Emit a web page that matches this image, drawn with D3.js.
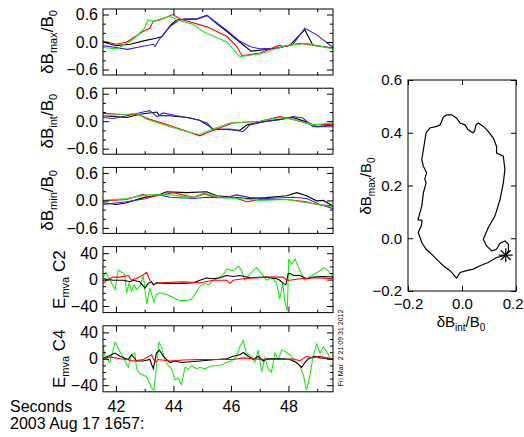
<!DOCTYPE html>
<html>
<head>
<meta charset="utf-8">
<script src="https://cdn.jsdelivr.net/npm/d3@7"></script>
<style>
body { margin: 0; background: #fff; }
text { font-family: "Liberation Sans", Arial, sans-serif; fill: #000; }
</style>
</head>
<body>
<svg id="chart" width="524" height="437"></svg>
<script>
// seconds after 2003 Aug 17 16:57
var tRange = [41.55, 49.55],
    tMajor = [42, 44, 46, 48],
    tMinor = [43, 45, 47, 49];

var bRange = [-0.72, 0.72],
    bMajor = [-0.6, 0.0, 0.6],
    bMinor = [-0.4, -0.2, 0.2, 0.4];

var eRange = [-50, 50],
    eMajor = [-40, 0, 40],
    eMinor = [-30, -20, -10, 10, 20, 30];

// dB_max / B0, per spacecraft  [t, value]
var bmaxC1 = [[41.55,0.0],[42.0,-0.08],[42.5,-0.05],[43.0,0.03],[43.4,0.08],[43.6,0.12],[43.9,0.37],[44.1,0.48],[44.4,0.5],[44.8,0.5],[45.17,0.58],[45.5,0.4],[45.86,0.23],[46.3,0.0],[46.7,-0.2],[47.0,-0.18],[47.6,-0.13],[48.05,-0.07],[48.57,0.27],[48.85,-0.07],[49.55,-0.13]];
var bmaxC4 = [[41.55,-0.08],[42.0,-0.12],[42.4,-0.16],[42.9,-0.1],[43.3,-0.05],[43.36,-0.1],[43.5,0.05],[43.9,0.35],[44.2,0.48],[44.5,0.5],[44.8,0.5],[45.17,0.58],[45.5,0.42],[45.86,0.25],[46.3,0.02],[46.66,-0.1],[47.0,-0.15],[47.6,-0.14],[48.16,-0.05],[48.57,0.3],[49.0,0.15],[49.55,-0.12]];
var bmaxC2 = [[41.55,0.02],[42.0,-0.05],[42.38,0.0],[42.94,0.23],[43.18,0.3],[43.29,0.45],[43.53,0.48],[43.98,0.6],[44.23,0.5],[44.68,0.42],[45.17,0.33],[45.86,0.12],[46.21,-0.1],[46.38,-0.3],[47.01,-0.24],[47.7,-0.07],[47.8,-0.1],[48.4,-0.03],[49.55,-0.13]];
var bmaxC3 = [[41.55,-0.12],[42.03,-0.15],[42.59,0.05],[42.83,0.2],[43.0,0.3],[43.11,0.48],[43.29,0.45],[43.88,0.56],[44.23,0.46],[44.68,0.39],[45.03,0.23],[45.86,0.0],[46.31,-0.32],[47.01,-0.26],[47.95,-0.07],[48.64,-0.03],[49.55,-0.15]];

// dB_int / B0
var bintC1 = [[41.55,0.12],[42.38,0.08],[42.83,0.15],[43.43,0.2],[43.5,0.12],[43.88,0.12],[44.47,0.08],[44.92,0.02],[45.17,-0.08],[45.37,-0.17],[45.86,-0.18],[46.31,-0.2],[46.56,-0.08],[47.01,-0.02],[47.7,0.04],[48.16,0.08],[48.64,-0.02],[48.99,-0.12],[49.55,-0.08]];
var bintC4 = [[41.55,0.08],[41.9,0.06],[42.38,0.12],[42.94,0.2],[43.18,0.23],[43.43,0.1],[43.63,0.18],[44.12,0.12],[44.68,0.06],[45.17,-0.04],[45.37,-0.18],[45.97,-0.17],[46.42,-0.23],[46.66,-0.08],[47.25,0.0],[47.7,0.03],[48.16,0.1],[48.5,0.07],[48.85,-0.12],[49.55,-0.12]];
var bintC2 = [[41.55,0.17],[42.38,0.14],[42.73,0.15],[43.18,0.04],[43.77,-0.07],[44.23,-0.17],[44.92,-0.32],[45.17,-0.25],[45.51,-0.17],[46.07,-0.04],[47.01,0.0],[47.7,0.1],[48.16,0.04],[48.85,-0.08],[49.55,-0.07]];
var bintC3 = [[41.55,0.12],[42.38,0.15],[42.73,0.17],[43.08,0.04],[43.77,-0.1],[44.47,-0.23],[44.92,-0.29],[45.37,-0.17],[45.97,-0.04],[47.01,0.0],[47.7,0.08],[48.16,0.04],[48.85,-0.08],[49.55,-0.04]];

// dB_min / B0
var bminC1 = [[41.56,-0.05],[42.02,-0.09],[42.37,-0.05],[42.95,0.06],[43.53,0.13],[43.76,0.19],[44.46,0.17],[45.16,0.19],[45.5,0.1],[46.08,0.07],[46.55,0.04],[47.24,0.06],[47.94,0.1],[48.29,0.17],[48.63,0.1],[48.98,-0.01],[49.21,0.0],[49.55,-0.12]];
var bminC4 = [[41.56,-0.09],[42.37,-0.03],[43.07,0.04],[43.41,0.13],[43.88,0.07],[44.69,0.04],[45.16,0.07],[45.85,0.06],[46.2,0.12],[46.66,0.06],[47.24,0.04],[48.17,0.07],[48.63,0.04],[49.1,-0.09],[49.55,-0.18]];
var bminC2 = [[41.56,-0.01],[42.37,0.02],[42.95,0.13],[43.18,0.07],[43.99,0.17],[44.69,0.07],[45.04,0.15],[45.5,0.06],[46.08,0.07],[46.55,-0.03],[47.01,0.02],[47.94,0.02],[48.63,-0.03],[48.98,-0.09],[49.55,-0.12]];
var bminC3 = [[41.56,0.0],[42.37,0.04],[43.07,0.12],[43.88,0.12],[44.69,0.06],[45.16,0.15],[45.62,0.06],[46.31,0.04],[47.01,0.0],[47.94,0.02],[48.63,-0.05],[49.1,-0.09],[49.55,-0.15]];

// E in mva frame, C2 (max black, int red, min green)
var ec2Max = [[41.56,1.4],[41.91,-1],[42.26,-1],[42.49,-3.3],[42.6,-1],[42.83,-3.3],[43.01,-12.9],[43.12,-5.7],[43.24,-3.3],[43.3,-8.1],[43.41,-4.8],[43.76,-5.7],[44.34,-5.7],[44.69,-4.8],[44.92,-1],[45.15,2.4],[45.39,1.4],[45.62,2.9],[45.85,6.2],[46.08,4.8],[46.31,6.2],[46.66,2.9],[47.24,3.8],[47.59,1.4],[47.7,-1],[47.82,-5.7],[47.91,-8.1],[47.99,8.6],[48.05,9.5],[48.17,6.2],[48.4,6.2],[48.63,1.4],[48.86,3.8],[49.21,4.8],[49.56,3.8]];
var ec2Int = [[41.56,-5.7],[41.68,-1],[41.91,3.8],[42.14,3.8],[42.43,6.2],[42.54,-1],[42.83,3.8],[43.07,10.9],[43.18,-1],[43.3,-6.7],[43.65,-4.8],[44.34,-3.3],[44.92,-4.8],[45.39,-1],[45.85,-1],[45.97,-5.7],[46.08,-1],[46.43,1.4],[47.24,3.8],[47.82,3.8],[47.94,-1],[48.05,-1],[48.4,1.4],[48.98,2.9],[49.56,1.4]];
var ec2Min = [[41.56,3.8],[41.65,10.9],[41.97,-15.2],[42.08,14.3],[42.26,9.5],[42.31,6.2],[42.37,-20],[42.46,-5.7],[42.54,-17.6],[42.63,-8.1],[42.72,-15.2],[42.83,-10.5],[42.95,6.2],[43.07,-36.7],[43.18,-12.9],[43.32,-34.3],[43.41,-22.4],[43.53,-20],[43.76,-22.4],[43.99,-27.1],[44.23,-31.9],[44.46,-31.9],[44.63,-29.5],[44.75,-22.4],[44.92,-10.5],[45.1,-5.7],[45.21,-8.1],[45.39,-1],[45.62,3.8],[45.79,10.9],[45.85,15.7],[46.08,13.3],[46.26,20.5],[46.37,13.3],[46.49,-1],[46.66,8.6],[46.89,18.1],[47.07,8.6],[47.24,-1],[47.41,3.8],[47.59,-5.7],[47.7,-29.5],[47.8,-5.7],[47.88,-34.3],[47.96,-47],[48.01,31.4],[48.11,22.8],[48.23,31.4],[48.4,13.3],[48.57,-1],[48.81,6.2],[49.1,13.3],[49.21,18.1],[49.39,13.3],[49.5,6.2],[49.56,3.8]];

// E in mva frame, C4
var ec4Max = [[41.54,0],[41.97,8.6],[42.14,3.8],[42.43,-1],[42.54,6.2],[42.72,-3.3],[42.95,-3.3],[43.18,-1],[43.3,-15.2],[43.41,8.6],[43.51,13.3],[43.65,3.8],[43.76,-1],[43.88,-5.7],[44.05,-3.3],[44.28,-5.7],[44.92,-3.3],[45.5,-1],[45.85,0],[46.08,3.8],[46.31,6.2],[46.43,9.5],[46.6,3.8],[46.78,-1],[46.95,3.8],[47.12,-3.3],[47.24,0],[47.82,0],[48.05,-1],[48.28,-5.7],[48.46,-12.9],[48.57,-5.7],[48.69,0],[48.92,3.8],[49.1,1.4],[49.56,0]];
var ec4Int = [[41.54,0],[41.79,2.9],[42.14,0],[42.37,-1],[42.6,-3.3],[42.95,-1],[43.24,6.2],[43.36,-5.7],[43.47,-1],[43.88,-3.3],[44.34,-1.9],[44.92,-1],[46.08,-1],[46.43,1.4],[46.78,0],[47.24,-1],[47.82,-1],[48.17,0],[48.4,-3.3],[48.63,3.8],[48.81,1.4],[49.1,3.8],[49.56,-1]];
var ec4Min = [[41.54,20.5],[41.62,3.8],[41.79,-5.7],[41.97,25.2],[42.14,11],[42.26,1.4],[42.43,-12.9],[42.54,6.2],[42.66,8.6],[42.72,-15.2],[42.83,-22.4],[43.07,-27.1],[43.24,-43.8],[43.32,-48],[43.41,-10.5],[43.5,25.2],[43.59,18.1],[43.7,-1],[43.82,-10.5],[43.94,-15.2],[44.05,-31.9],[44.17,-29.5],[44.28,-39],[44.4,-12.9],[44.52,-15.2],[44.63,-10.5],[44.81,-15.2],[44.92,-12.9],[45.1,-15.2],[45.21,-12.9],[45.39,-10.5],[45.62,-10.5],[45.85,-5.7],[46.02,-3.3],[46.2,3.8],[46.31,18.1],[46.43,27.6],[46.54,8.6],[46.72,3.8],[46.83,-5.7],[46.95,13.3],[47.07,-20],[47.18,1.4],[47.3,-15.2],[47.41,-20],[47.53,8.6],[47.65,-1],[47.76,13.3],[47.88,11],[48.05,6.2],[48.17,-1],[48.28,-5.7],[48.4,-10.5],[48.52,-24.8],[48.63,-48],[48.75,-24.8],[48.86,3.8],[48.98,22.8],[49.1,8.6],[49.21,18.1],[49.33,11],[49.44,1.4],[49.56,-1]];

// hodogram [dB_int, dB_max]
var hodo = [[-0.02,-0.151],[-0.044,-0.123],[-0.069,-0.104],[-0.088,-0.086],[-0.119,-0.054],[-0.133,-0.042],[-0.149,-0.016],[-0.162,0.022],[-0.15,0.05],[-0.148,0.068],[-0.163,0.07],[-0.155,0.1],[-0.149,0.122],[-0.143,0.172],[-0.133,0.21],[-0.138,0.225],[-0.131,0.248],[-0.143,0.273],[-0.149,0.298],[-0.141,0.348],[-0.133,0.40],[-0.119,0.418],[-0.094,0.424],[-0.081,0.43],[-0.069,0.459],[-0.057,0.468],[-0.038,0.468],[-0.02,0.455],[-0.007,0.437],[0.011,0.43],[0.023,0.411],[0.04,0.40],[0.046,0.405],[0.052,0.43],[0.06,0.437],[0.079,0.424],[0.097,0.405],[0.116,0.38],[0.128,0.348],[0.128,0.323],[0.153,0.311],[0.159,0.26],[0.153,0.21],[0.141,0.147],[0.122,0.084],[0.097,0.04],[0.079,-0.004],[0.091,-0.029],[0.11,-0.048],[0.128,-0.042],[0.141,-0.019],[0.159,-0.01],[0.172,-0.023],[0.172,-0.048],[0.162,-0.064],[0.128,-0.073],[0.097,-0.092],[0.067,-0.104],[0.042,-0.117],[0.017,-0.123],[-0.007,-0.13],[-0.02,-0.151]];
var hodoStart = [0.162, -0.064];
var hxRange = [-0.2, 0.2], hxTicks = [-0.2, 0.0, 0.2];
var hyRange = [-0.2, 0.6], hyTicks = [-0.2, 0.0, 0.2, 0.4, 0.6];

var colors = {c1: "#000000", c2: "#ff0000", c3: "#1ee61e", c4: "#3c1ee6"};

var svg = d3.select("#chart");
var margins = {left: 103, top: 9},
    width = 230,
    height = 66,
    step = 79.2;

var x = d3.scaleLinear().domain(tRange).range([0, width]);

var panels = [
    {label: ["δB", "max", "/B", "0"], range: bRange, major: bMajor, minor: bMinor, fmt: d3.format(".1f"),
     series: [[bmaxC1, "c1"], [bmaxC4, "c4"], [bmaxC2, "c2"], [bmaxC3, "c3"]]},
    {label: ["δB", "int", "/B", "0"], range: bRange, major: bMajor, minor: bMinor, fmt: d3.format(".1f"),
     series: [[bintC1, "c1"], [bintC4, "c4"], [bintC2, "c2"], [bintC3, "c3"]]},
    {label: ["δB", "min", "/B", "0"], range: bRange, major: bMajor, minor: bMinor, fmt: d3.format(".1f"),
     series: [[bminC1, "c1"], [bminC4, "c4"], [bminC2, "c2"], [bminC3, "c3"]]},
    {label: ["E", "mva", " C2", ""], range: eRange, major: eMajor, minor: eMinor, fmt: d3.format("d"),
     series: [[ec2Min, "c3"], [ec2Max, "c1"], [ec2Int, "c2"]]},
    {label: ["E", "mva", " C4", ""], range: eRange, major: eMajor, minor: eMinor, fmt: d3.format("d"),
     series: [[ec4Min, "c3"], [ec4Max, "c1"], [ec4Int, "c2"]]}
];

function stripDomain(g) { g.select(".domain").remove(); }

function subLabel(sel, parts, big, small) {
    sel.append("tspan").attr("font-size", big).text(parts[0]);
    sel.append("tspan").attr("font-size", small).attr("dy", 4).text(parts[1]);
    if (parts[2]) sel.append("tspan").attr("font-size", big).attr("dy", -4).text(parts[2]);
    if (parts[3]) sel.append("tspan").attr("font-size", small).attr("dy", 4).text(parts[3]);
}

panels.forEach(function(p, i) {
    var y = d3.scaleLinear().domain(p.range).range([height, 0]);
    var g = svg.append("g").attr("transform", "translate(" + margins.left + "," + (margins.top + i * step) + ")");

    var defs = g.append("clipPath").attr("id", "clip" + i);
    defs.append("rect").attr("width", width).attr("height", height);

    var line = d3.line().x(function(d) { return x(d[0]); }).y(function(d) { return y(d[1]); });
    g.append("g").attr("clip-path", "url(#clip" + i + ")")
        .selectAll("path").data(p.series).enter().append("path")
        .attr("d", function(s) { return line(s[0]); })
        .attr("fill", "none")
        .attr("stroke", function(s) { return colors[s[1]]; })
        .attr("stroke-width", 1.1);

    g.append("g").call(d3.axisLeft(y).tickValues(p.major).tickSize(-6).tickPadding(5).tickFormat(p.fmt)).call(stripDomain);
    g.append("g").call(d3.axisLeft(y).tickValues(p.minor).tickSize(-3).tickFormat("")).call(stripDomain);
    g.append("g").attr("transform", "translate(" + width + ",0)").call(d3.axisRight(y).tickValues(p.major).tickSize(-6).tickFormat("")).call(stripDomain);
    g.append("g").attr("transform", "translate(" + width + ",0)").call(d3.axisRight(y).tickValues(p.minor).tickSize(-3).tickFormat("")).call(stripDomain);

    var last = i === panels.length - 1;
    g.append("g").attr("transform", "translate(0," + height + ")")
        .call(d3.axisBottom(x).tickValues(tMajor).tickSize(-6).tickPadding(9).tickFormat(last ? d3.format("d") : "")).call(stripDomain);
    g.append("g").attr("transform", "translate(0," + height + ")")
        .call(d3.axisBottom(x).tickValues(tMinor).tickSize(-3).tickFormat("")).call(stripDomain);
    g.append("g").call(d3.axisTop(x).tickValues(tMajor).tickSize(-6).tickFormat("")).call(stripDomain);
    g.append("g").call(d3.axisTop(x).tickValues(tMinor).tickSize(-3).tickFormat("")).call(stripDomain);

    g.selectAll(".tick text").attr("font-size", 16).attr("font-family", "Liberation Sans, Arial, sans-serif").attr("fill", "#000");
    g.selectAll(".tick line").attr("stroke", "#000");

    g.append("rect").attr("width", width).attr("height", height)
        .attr("fill", "none").attr("stroke", "#000").attr("stroke-width", 1);

    var lab = g.append("text")
        .attr("transform", "translate(" + (i < 3 ? -50 : -38) + "," + (height / 2) + ") rotate(-90)")
        .attr("text-anchor", "middle");
    subLabel(lab, p.label, 17, 11);
});

svg.append("text").attr("x", 10).attr("y", 412).attr("font-size", 16).text("Seconds");
svg.append("text").attr("x", 10).attr("y", 429).attr("font-size", 16).text("2003 Aug 17 1657:");
svg.append("text")
    .attr("transform", "translate(343,348) rotate(-90)")
    .attr("text-anchor", "middle").attr("font-size", 7)
    .text("Fri Mar  2 21:09:31 2012").style("white-space", "pre");

// hodogram
var hx = d3.scaleLinear().domain(hxRange).range([408, 516]),
    hy = d3.scaleLinear().domain(hyRange).range([291, 80]);

var hg = svg.append("g");
hg.append("path")
    .attr("d", d3.line().x(function(d) { return hx(d[0]); }).y(function(d) { return hy(d[1]); })(hodo))
    .attr("fill", "none").attr("stroke", "#000").attr("stroke-width", 1.2);

var sx = hx(hodoStart[0]), sy = hy(hodoStart[1]), r = 7;
[[0, 1], [1, 0], [0.7, 0.7], [0.7, -0.7]].forEach(function(v) {
    hg.append("line")
        .attr("x1", sx - r * v[0]).attr("y1", sy - r * v[1])
        .attr("x2", sx + r * v[0]).attr("y2", sy + r * v[1])
        .attr("stroke", "#000").attr("stroke-width", 1.2);
});

hg.append("g").attr("transform", "translate(408,0)").call(d3.axisLeft(hy).tickValues(hyTicks).tickSize(-5).tickPadding(6).tickFormat(d3.format(".1f"))).call(stripDomain);
hg.append("g").attr("transform", "translate(516,0)").call(d3.axisRight(hy).tickValues(hyTicks).tickSize(-5).tickFormat("")).call(stripDomain);
var hxAxis = hg.append("g").attr("transform", "translate(0,291)").call(d3.axisBottom(hx).tickValues(hxTicks).tickSize(-5).tickPadding(7).tickFormat(d3.format(".1f"))).call(stripDomain);
hg.append("g").attr("transform", "translate(0,80)").call(d3.axisTop(hx).tickValues(hxTicks).tickSize(-5).tickFormat("")).call(stripDomain);
hg.selectAll(".tick text").attr("font-size", 15).attr("font-family", "Liberation Sans, Arial, sans-serif").attr("fill", "#000");
hg.selectAll(".tick line").attr("stroke", "#000");
// keep the last x label inside the page
hxAxis.selectAll(".tick text").filter(function(d) { return d === 0.2; })
    .attr("text-anchor", "end").attr("x", 7);
hg.append("rect").attr("x", 408).attr("y", 80).attr("width", 108).attr("height", 211)
    .attr("fill", "none").attr("stroke", "#000");

var hyl = svg.append("text").attr("transform", "translate(371,186) rotate(-90)").attr("text-anchor", "middle");
subLabel(hyl, ["δB", "max", "/B", "0"], 15, 10);
var hxl = svg.append("text").attr("x", 461).attr("y", 327).attr("text-anchor", "middle");
subLabel(hxl, ["δB", "int", "/B", "0"], 15, 10);
</script>
</body>
</html>
